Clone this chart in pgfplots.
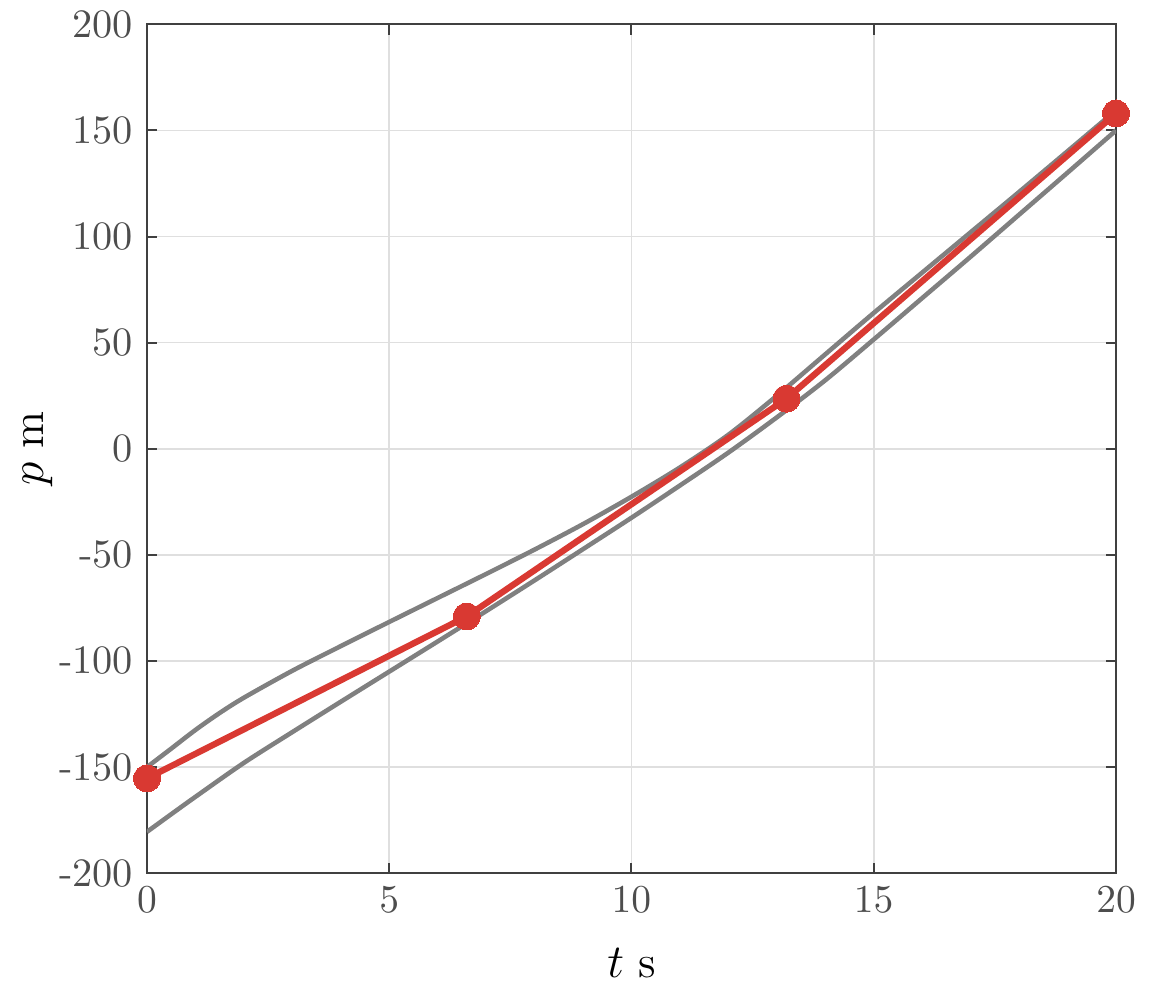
\documentclass[border=0pt]{standalone}
\usepackage{pgfplots}
\pgfplotsset{compat=1.18}
\definecolor{mred}{RGB}{217,57,50}
\definecolor{mgrey}{RGB}{128,128,128}
\definecolor{tickgrey}{RGB}{77,77,77}
\definecolor{gridgrey}{RGB}{223,223,223}
\definecolor{axgrey}{RGB}{64,64,64}
\begin{document}
\begin{tikzpicture}
\begin{axis}[
  scale only axis, width=245.3pt, height=214.9pt,
  xmin=0, xmax=20, ymin=-200, ymax=200,
  xtick={0,5,10,15,20},
  ytick={-200,-150,-100,-50,0,50,100,150,200},
  yticklabels={-200,-150,-100,-50,0,50,100,150,200},
  grid=major,
  major grid style={gridgrey, line width=0.4pt},
  axis line style={axgrey, line width=0.5pt},
  every tick/.style={axgrey, line width=0.5pt},
  major tick length=2.6pt,
  tick align=inside,
  tick label style={tickgrey, font=\fontsize{10.2}{12}\selectfont},
  xlabel={$t$\hspace{3.5pt}s}, ylabel={$p$\hspace{3.5pt}m},
  label style={black, font=\fontsize{11.5}{13}\selectfont},
  x label style={at={(axis description cs:0.5,-0.1061)}, anchor=center},
  y label style={at={(axis description cs:-0.1125,0.5)}, anchor=center},
]
\addplot[mgrey, line width=1.15pt, smooth] coordinates {
(0,-150) (0.5,-141.3) (1,-132.5) (1.5,-124.5) (2,-117.3) (3,-104.6) (4,-93) (5,-81.6)
(6,-70.3) (7,-59) (8,-47.5) (9,-35.5) (10,-22.6) (11,-8.8) (12,6.6)
(13,25) (14,44.5) (15,64) (16,83) (17,102) (18,121) (19,140.2) (20,159.5)};
\addplot[mgrey, line width=1.15pt, smooth] coordinates {
(0,-180.5) (0.5,-172.2) (1,-164) (2,-148) (3,-133.5) (4,-119.2) (5,-105)
(6,-90.8) (7,-76.5) (8,-62) (9,-47.3) (10,-32.5) (11,-17.3) (12,-1.8) (13,14.8)
(14,32.3) (15,51.5) (16,71) (17,90.5) (18,110.3) (19,130.1) (20,150)};
\addplot[mred, line width=1.6pt, mark=*, mark size=3.4pt, mark options={fill=mred, draw=mred, line width=0pt}] coordinates {
(0,-155.3) (6.6,-79) (13.2,23.6) (20,158)};
\end{axis}
\pgfresetboundingbox
\path[use as bounding box] ([xshift=-37.2pt, yshift=-30.6pt]current axis.south west) rectangle ([xshift=8.86pt, yshift=6.15pt]current axis.north east);
\end{tikzpicture}
\end{document}
